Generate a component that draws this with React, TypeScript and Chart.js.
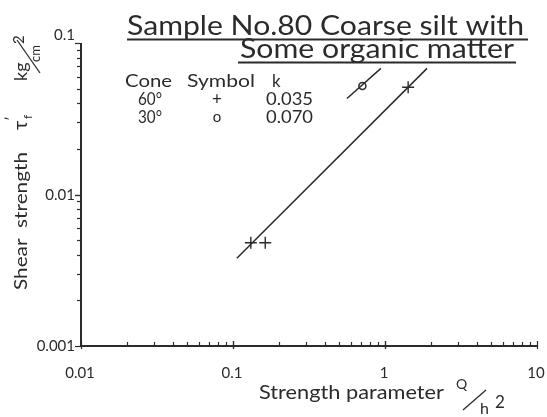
import React, { useEffect, useRef } from 'react';
import { Chart, registerables } from 'chart.js';

Chart.register(...registerables);

// ---- data ----
const xRange = [0.01, 10];
const yRange = [0.001, 0.1];
const xTickValues = [0.01, 0.1, 1, 10];
const xTickLabels = ['0.01', '0.1', '1', '10'];
const yTickValues = [0.001, 0.01, 0.1];
const yTickLabels = ['0.001', '0.01', '0.1'];

// 60° cone (+)
const plusX = [0.131, 0.163, 1.42];
const plusY = [0.0048, 0.0048, 0.051];
// 30° cone (o)
const circleX = [0.71];
const circleY = [0.052];

// fitted lines
const line60X = [0.106, 1.89];
const line60Y = [0.0038, 0.068];
const line30X = [0.562, 0.94];
const line30Y = [0.043, 0.068];

const titleLines = ['Sample No.80 Coarse silt with', 'Some organic matter'];
const legendHeader = ['Cone', 'Symbol', 'k'];
const legendCones = ['60°', '30°'];
const legendSymbols = ['+', 'o'];
const legendK = ['0.035', '0.070'];

const FONT = 'Lato, "DejaVu Sans", sans-serif';
const INK = '#2b2b2b';

function toPts(xs: number[], ys: number[]) {
  return xs.map((x, i) => ({ x, y: ys[i] }));
}

function fitText(
  ctx: CanvasRenderingContext2D,
  s: string,
  x: number,
  y: number,
  size: number,
  width?: number,
  align: 'left' | 'center' | 'right' = 'left'
) {
  ctx.font = `${size}px ${FONT}`;
  const m = ctx.measureText(s).width;
  const sx = width ? width / m : 1;
  const w = m * sx;
  ctx.save();
  const left = align === 'center' ? x - w / 2 : align === 'right' ? x - w : x;
  ctx.translate(left, y);
  ctx.scale(sx, 1);
  ctx.textAlign = 'left';
  ctx.textBaseline = 'alphabetic';
  ctx.fillText(s, 0, 0);
  ctx.restore();
}

const decorPlugin = {
  id: 'decor',
  beforeDraw(chart: any) {
    const ctx = chart.ctx as CanvasRenderingContext2D;
    ctx.save();
    ctx.fillStyle = '#ffffff';
    ctx.fillRect(0, 0, chart.width, chart.height);
    ctx.restore();
  },
  afterDraw(chart: any) {
    const ctx = chart.ctx as CanvasRenderingContext2D;
    const xs = chart.scales.x;
    const ys = chart.scales.y;
    const left = xs.getPixelForValue(xRange[0]);
    const right = xs.getPixelForValue(xRange[1]);
    const top = ys.getPixelForValue(yRange[1]);
    const bottom = ys.getPixelForValue(yRange[0]);
    ctx.save();
    ctx.strokeStyle = INK;
    ctx.fillStyle = INK;

    // axes
    ctx.lineWidth = 2;
    ctx.beginPath();
    ctx.moveTo(left, top);
    ctx.lineTo(left, bottom);
    ctx.lineTo(right, bottom);
    ctx.stroke();

    // ticks
    ctx.lineWidth = 1.2;
    for (let e = -3; e < -1; e++) {
      for (let m = 1; m <= 10; m++) {
        const v = m * Math.pow(10, e);
        const py = Math.round(ys.getPixelForValue(v)) + 0.5;
        const len = m === 1 || m === 10 ? 6 : 4;
        ctx.beginPath();
        ctx.moveTo(left - len, py);
        ctx.lineTo(left, py);
        ctx.stroke();
      }
    }
    for (let e = -2; e < 1; e++) {
      for (let m = 1; m <= 10; m++) {
        const v = m * Math.pow(10, e);
        const px = Math.round(xs.getPixelForValue(v)) + 0.5;
        const major = m === 1 || m === 10;
        ctx.beginPath();
        ctx.moveTo(px, bottom - (major ? 5 : 4));
        ctx.lineTo(px, bottom + (major ? 3 : 0));
        ctx.stroke();
      }
    }

    // tick labels
    xTickValues.forEach((v, i) => {
      fitText(ctx, xTickLabels[i], xs.getPixelForValue(v) - 1, bottom + 32, 15, undefined, 'center');
    });
    yTickValues.forEach((v, i) => {
      const py = ys.getPixelForValue(v);
      fitText(ctx, yTickLabels[i], left - 6, i === yTickValues.length - 1 ? py - 3 : py + 5, 15, undefined, 'right');
    });

    // x axis title
    fitText(ctx, 'Strength parameter', 259, 399, 19, 185);
    fitText(ctx, 'Q', 456, 389, 14);
    ctx.lineWidth = 1.3;
    ctx.beginPath();
    ctx.moveTo(463, 410);
    ctx.lineTo(486, 390);
    ctx.stroke();
    fitText(ctx, 'h', 480, 414, 16);
    fitText(ctx, '2', 495, 408, 17);

    // y axis title (rotated)
    ctx.save();
    ctx.translate(27, 290);
    ctx.rotate(-Math.PI / 2);
    fitText(ctx, 'Shear  strength', 0, 0, 18, 138);
    fitText(ctx, 'τ', 160, 0, 20);
    fitText(ctx, '′', 169, -11, 14);
    fitText(ctx, 'f', 171, 5, 12);
    fitText(ctx, 'kg', 209, 0, 18);
    ctx.lineWidth = 1.3;
    ctx.beginPath();
    ctx.moveTo(217, 13);
    ctx.lineTo(250, -10);
    ctx.stroke();
    fitText(ctx, 'cm', 228, 13, 13);
    fitText(ctx, '2', 246, -3, 15);
    ctx.restore();

    // title
    fitText(ctx, titleLines[0], 127, 35, 27, 397);
    fitText(ctx, titleLines[1], 240, 58, 27, 274);
    ctx.lineWidth = 1.8;
    ctx.beginPath();
    ctx.moveTo(127, 39.5);
    ctx.lineTo(528, 39.5);
    ctx.moveTo(238, 62.5);
    ctx.lineTo(516, 62.5);
    ctx.stroke();

    // legend
    fitText(ctx, legendHeader[0], 125, 87, 17, 47);
    fitText(ctx, legendHeader[1], 187, 87, 17, 68);
    fitText(ctx, legendHeader[2], 272, 87, 17);
    legendCones.forEach((c, i) => {
      const yb = 105 + i * 18;
      fitText(ctx, c, 138, yb, 17, 24);
      fitText(ctx, legendSymbols[i], 217, yb - (i === 1 ? 1 : 0), i === 0 ? 17 : 15, undefined, 'center');
      fitText(ctx, legendK[i], 266, yb, 17, 47);
    });

    ctx.restore();
  },
};

export default function App() {
  const ref = useRef<HTMLCanvasElement | null>(null);
  useEffect(() => {
    document.body.style.margin = '0';
    const canvas = ref.current;
    if (!canvas) return;
    const chart = new Chart(canvas, {
      type: 'scatter',
      data: {
        datasets: [
          {
            type: 'line',
            data: toPts(line60X, line60Y),
            borderColor: INK,
            borderWidth: 1.5,
            pointRadius: 0,
            fill: false,
          },
          {
            type: 'line',
            data: toPts(line30X, line30Y),
            borderColor: INK,
            borderWidth: 1.5,
            pointRadius: 0,
            fill: false,
          },
          {
            data: toPts(plusX, plusY),
            pointStyle: 'cross',
            pointRadius: 6,
            borderColor: INK,
            borderWidth: 1.4,
          },
          {
            data: toPts(circleX, circleY),
            pointStyle: 'circle',
            pointRadius: 3.5,
            borderColor: INK,
            backgroundColor: '#ffffff',
            borderWidth: 1.5,
          },
        ],
      } as any,
      options: {
        animation: false,
        responsive: false,
        maintainAspectRatio: false,
        layout: { padding: { left: 81, right: 10, top: 43, bottom: 71 } },
        plugins: { legend: { display: false }, tooltip: { enabled: false } },
        scales: {
          x: { type: 'logarithmic', min: xRange[0], max: xRange[1], display: false },
          y: { type: 'logarithmic', min: yRange[0], max: yRange[1], display: false },
        },
      },
      plugins: [decorPlugin],
    });
    return () => chart.destroy();
  }, []);
  return (
    <div style={{ width: 547, height: 417 }}>
      <canvas ref={ref} width={547} height={417} style={{ display: 'block' }} />
    </div>
  );
}
